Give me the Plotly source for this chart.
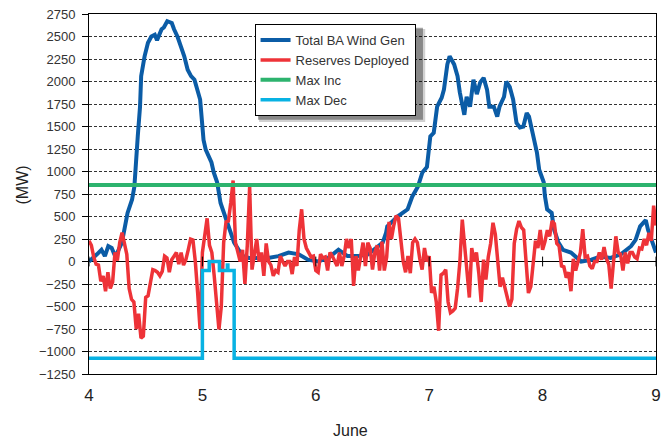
import plotly.graph_objects as go

# ---------------- data ----------------
day_ticks = [4, 5, 6, 7, 8, 9]
day_tick_labels = ["4", "5", "6", "7", "8", "9"]
mw_ticks = [-1250, -1000, -750, -500, -250, 0, 250, 500, 750, 1000,
            1250, 1500, 1750, 2000, 2250, 2500, 2750]

wind_day = [4.00, 4.03, 4.07, 4.11, 4.14, 4.17, 4.20, 4.23, 4.25, 4.29, 4.31, 4.34,
            4.38, 4.40, 4.43, 4.45, 4.46, 4.49, 4.52, 4.55, 4.58, 4.60, 4.64, 4.66,
            4.69, 4.73, 4.75, 4.78, 4.81, 4.84, 4.87, 4.90, 4.93, 4.95, 4.98, 5.00,
            5.01, 5.03, 5.06, 5.08, 5.10, 5.13, 5.16, 5.19, 5.22, 5.25, 5.28, 5.32,
            5.36, 5.41, 5.50, 5.58, 5.67, 5.76, 5.85, 5.93, 6.02, 6.11, 6.20, 6.24,
            6.28, 6.37, 6.46, 6.55, 6.59, 6.62, 6.63, 6.72, 6.81, 6.85, 6.90, 6.94,
            6.98, 7.01, 7.04, 7.07, 7.11, 7.13, 7.16, 7.18, 7.22, 7.25, 7.27, 7.31,
            7.33, 7.36, 7.39, 7.42, 7.45, 7.48, 7.51, 7.53, 7.57, 7.60, 7.62, 7.66,
            7.68, 7.71, 7.74, 7.77, 7.80, 7.83, 7.86, 7.88, 7.92, 7.95, 7.97, 8.01,
            8.02, 8.04, 8.08, 8.10, 8.14, 8.18, 8.25, 8.34, 8.43, 8.51, 8.60, 8.69,
            8.78, 8.82, 8.86, 8.91, 8.93, 8.97, 9.00]
wind_mw = [0, 40, 80, 130, 60, 170, 150, 60, 100, 210, 360, 540,
           690, 830, 1390, 1720, 2060, 2280, 2430, 2500, 2520, 2460, 2580, 2600,
           2670, 2650, 2580, 2500, 2390, 2280, 2130, 2060, 2020, 1940, 1800, 1500,
           1350, 1240, 1170, 1100, 990, 880, 650, 540, 430, 320, 210, 130,
           60, 40, 40, 40, 60, 100, 80, 20, 0, 40, 130, 100,
           60, 60, 80, 170, 210, 320, 390, 500, 580, 720, 830, 990,
           1050, 1390, 1430, 1720, 1820, 1910, 2190, 2280, 2190, 2060, 1880, 1630,
           1830, 1720, 2020, 1860, 1990, 2040, 1910, 1720, 1720, 1610, 1720, 1830,
           2000, 1940, 1800, 1540, 1490, 1500, 1650, 1610, 1390, 1210, 1020, 880,
           730, 580, 540, 360, 210, 130, 100, 0, 20, 55, 40, 80,
           170, 240, 390, 460, 350, 210, 100]

# reserves deployed, half-hourly samples starting June 4 00:00
reserves_start_day = 4.0
reserves_samples_per_day = 48
reserves_mw = [230, 180, 50, -30, -40, -220, -160, -330, -120, -300,
               -230, 100, 10, 210, 320, 210, 80, -300, -420, -450,
               -750, -580, -850, -830, -400, -380, -230, -90, -100, -120,
               -160, -110, 60, 40, -120, 20, 60, 100, -30, 100,
               -40, 20, 130, 250, 240, 0, -350, -750, 100, 300,
               480, 180, 100, -160, -450, -755, -500, 210, 440, 450,
               650, 900, 210, 120, 0, 130, -250, 180, 830, -90,
               100, 250, 0, 100, -160, 200, 0, -40, -160, -100,
               -120, 60, 0, -50, 0, 0, -140, 50, -50, 350,
               580, 250, 150, 100, 50, 60, -100, -120, 80, 40,
               50, -100, 100, 60, 0, -50, 100, -50, 60, 250,
               150, 250, -270, 60, -100, 50, 210, -50, 210, 150,
               -90, 100, 180, -100, 220, -100, 50, 440, 250, 400,
               510, 480, 250, 0, -120, 60, -130, 210, 250, 210,
               30, -90, 150, 0, 60, -350, -280, -450, -770, -150,
               -130, -90, -450, -570, -550, -520, -300, 0, 466, 150,
               -130, -400, 150, 0, 100, -130, -450, 20, -200, 50,
               200, 430, 300, -50, -280, -180, -300, -400, -500, -420,
               200, 360, 450, 380, 350, 0, -350, -280, -30, 230,
               150, 350, 130, 220, 350, 280, 450, 420, 200, 170,
               -50, -60, -180, -120, -330, 30, -100, 20, 100, 360,
               50, 60, -50, -80, 0, 0, 100, 20, 160, 30,
               -30, -300, 40, 280, 100, 80, -100, 100, -20, 100,
               100, 50, 30, 150, 140, 250, 180, 320, 230, 620,
               400]
reserves_day = [reserves_start_day + i / reserves_samples_per_day
                for i in range(len(reserves_mw))]

max_inc_day = [4.0, 9.0]
max_inc_mw = [850, 850]

max_dec_day = [4.0, 5.0, 5.06, 5.15, 5.22, 5.225, 5.28, 9.0]
max_dec_mw = [-1075, -100, 0, -100, -40, -100, -1075, -1075]

# ---------------- figure ----------------
C_BLUE = "#0B5CA6"
C_RED = "#EE3338"
C_GREEN = "#2DB36E"
C_CYAN = "#08B2E3"

fig = go.Figure()
fig.add_trace(go.Scatter(x=wind_day, y=wind_mw, mode="lines",
                         name="Total BA Wind Gen",
                         line=dict(color=C_BLUE, width=4)))
fig.add_trace(go.Scatter(x=reserves_day, y=reserves_mw, mode="lines",
                         name="Reserves Deployed",
                         line=dict(color=C_RED, width=3.5)))
fig.add_trace(go.Scatter(x=max_inc_day, y=max_inc_mw, mode="lines",
                         name="Max Inc",
                         line=dict(color=C_GREEN, width=4)))
fig.add_trace(go.Scatter(x=max_dec_day, y=max_dec_mw, mode="lines",
                         name="Max Dec", line_shape="hv",
                         line=dict(color=C_CYAN, width=3.5)))
# small tick marks on the zero line at each day
fig.add_trace(go.Scatter(x=day_ticks, y=[0] * len(day_ticks), mode="markers",
                         showlegend=False, hoverinfo="skip",
                         marker=dict(symbol="line-ns", size=7,
                                     line=dict(color="black", width=1))))

# legend drop shadow (paper coordinates, just behind the legend box)
shadow = [
    dict(type="rect", xref="paper", yref="paper", layer="above",
         x0=0.300, x1=0.593, y0=0.700, y1=0.958,
         fillcolor="rgba(0,0,0,0.18)", line=dict(width=0)),
    dict(type="rect", xref="paper", yref="paper", layer="above",
         x0=0.298, x1=0.589, y0=0.706, y1=0.962,
         fillcolor="rgba(0,0,0,0.35)", line=dict(width=0)),
]

fig.update_layout(
    width=666, height=438,
    margin=dict(l=89, r=5, t=14, b=64),
    plot_bgcolor="white", paper_bgcolor="white",
    font=dict(family="Liberation Sans, Arial, Helvetica, sans-serif", color="#333"),
    legend=dict(x=0.292, y=0.972, xanchor="left", yanchor="top",
                bgcolor="white", bordercolor="black", borderwidth=1,
                font=dict(size=13, color="#333"), tracegroupgap=0),
    shapes=shadow,
    annotations=[
        dict(text="(MW)", xref="paper", yref="paper", x=-0.119, y=0.525,
             xanchor="center", yanchor="middle",
             textangle=-90, showarrow=False, font=dict(size=16, color="#222")),
        dict(text="June", xref="paper", yref="paper", x=0.4615, y=-0.156,
             xanchor="center", yanchor="middle",
             showarrow=False, font=dict(size=16, color="#222")),
    ],
)
fig.update_xaxes(range=[4, 9], tickvals=day_ticks, ticktext=day_tick_labels,
                 ticks="", showline=True, linecolor="black", linewidth=1,
                 mirror=True, showgrid=False, zeroline=False,
                 tickfont=dict(size=17, color="#222"), ticklabelstandoff=6)
fig.update_yaxes(range=[-1250, 2750], tickvals=mw_ticks,
                 ticks="outside", ticklen=6, tickcolor="black",
                 showline=True, linecolor="black", linewidth=1, mirror=True,
                 showgrid=True, gridcolor="#333", gridwidth=1, griddash="3px,2px",
                 zeroline=True, zerolinecolor="black", zerolinewidth=1,
                 tickfont=dict(size=13, color="#333"), ticklabelstandoff=4)

fig.write_html("out.html", config={"displayModeBar": False},
               post_script="document.body.style.margin='0';")
